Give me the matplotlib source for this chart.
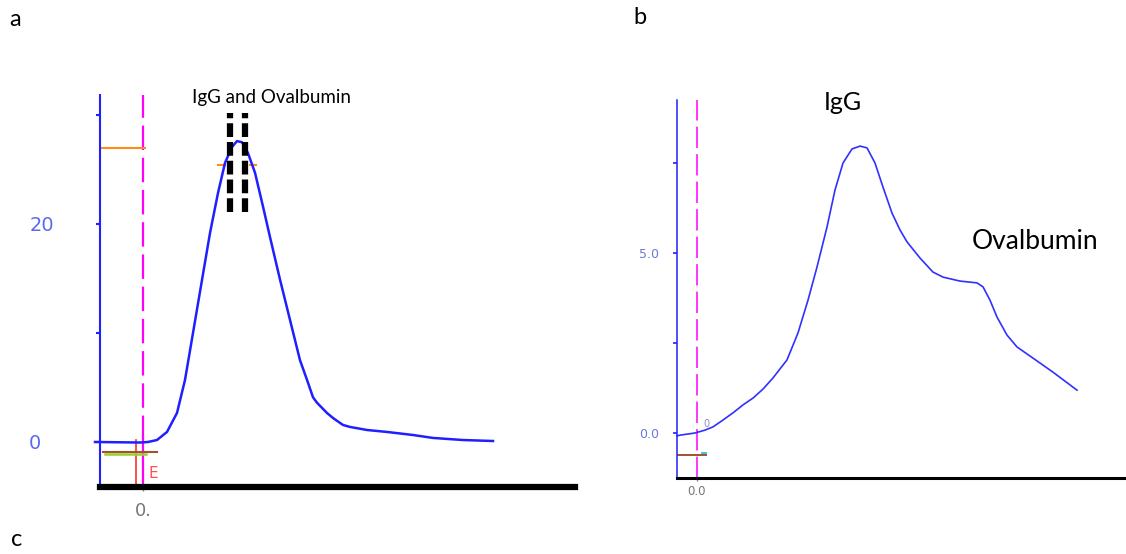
import matplotlib
import matplotlib.pyplot as plt

matplotlib.use("Agg")

# panel a: elution trace (x in mL from injection, y in mAU)
a_vol = [-0.96, -0.06, 0.10, 0.28, 0.48, 0.68, 0.84, 1.00, 1.18, 1.34, 1.50,
         1.64, 1.78, 1.88, 1.98, 2.10, 2.24, 2.40, 2.54, 2.74, 2.94, 3.14,
         3.28, 3.40, 3.48, 3.68, 3.80, 4.00, 4.14, 4.48, 4.88, 5.40, 5.80,
         6.40, 7.00]
a_abs = [0.0, -0.05, 0.0, 0.18, 0.92, 2.66, 5.69, 10.0, 14.86, 19.17, 22.84,
         25.6, 27.06, 27.6, 27.5, 26.5, 24.7, 21.6, 18.8, 14.9, 11.2, 7.5,
         5.7, 4.1, 3.6, 2.66, 2.2, 1.56, 1.38, 1.1, 0.92, 0.64, 0.37,
         0.18, 0.09]
a_yticks = [0, 10, 20, 30]
a_ylabels = ["0", "", "20", ""]
a_fractions = [1.74, 2.04]          # collected fraction window
a_frac_top = 30.2
a_frac_bottom = 21.1

# panel b: elution trace
b_vol = [-0.40, -0.34, -0.04, 0.16, 0.32, 0.52, 0.72, 0.92, 1.12, 1.32,
         1.52, 1.80, 2.02, 2.22, 2.40, 2.60, 2.76, 2.92, 3.10, 3.26, 3.40,
         3.56, 3.72, 3.90, 4.06, 4.20, 4.46, 4.72, 4.92, 5.26, 5.60, 5.72,
         5.86, 6.00, 6.20, 6.40, 6.72, 7.12, 7.60]
b_abs = [-0.08, -0.06, 0.0, 0.08, 0.17, 0.36, 0.56, 0.78, 0.97, 1.22,
         1.53, 2.03, 2.78, 3.69, 4.61, 5.72, 6.75, 7.50, 7.89, 7.97, 7.92,
         7.50, 6.83, 6.11, 5.64, 5.31, 4.86, 4.47, 4.33, 4.22, 4.17, 4.06,
         3.69, 3.22, 2.72, 2.39, 2.08, 1.69, 1.19]
b_yticks = [0, 2.5, 5.0, 7.5]
b_ylabels = ["0.0", "", "5.0", ""]

W, H = 1126, 554
fig = plt.figure(figsize=(W / 100, H / 100), dpi=100)
label_font = ["Lato", "DejaVu Sans"]

# ---------------- panel a ----------------
ax = fig.add_axes([100 / W, 1 - 487 / H, 475 / W, 392 / H])
ax.set_xlim(-0.86, 8.64)
ax.set_ylim(-4.13, 31.83)
for s in ["top", "right"]:
    ax.spines[s].set_visible(False)
ax.spines["left"].set_color("#2020ff")
ax.spines["left"].set_linewidth(1.5)
ax.spines["bottom"].set_color("black")
ax.spines["bottom"].set_linewidth(4.5)
ax.set_yticks(a_yticks)
ax.set_yticklabels(a_ylabels)
ax.tick_params(axis="y", colors="#2020ff", length=3, width=1.5, pad=48,
               labelsize=14, labelcolor="#5a6af0")
for t in ax.get_yticklabels():
    t.set_horizontalalignment("left")
ax.set_xticks([0])
ax.set_xticklabels(["0."])
ax.tick_params(axis="x", colors="#888888", length=3, width=1, pad=8,
               labelsize=13, labelcolor="#777777")

ax.plot([0, 0], [0.2, 32], color="#ff00ff", lw=1.6, ls=(0, (11, 3.5)))
ax.plot([0, 0], [-4.13, 0.2], color="#ff00ff", lw=1.6)
ax.plot([-0.14, -0.14], [-4.13, 0.18], color="#ff3030", lw=1.2)
ax.plot([-0.86, 0.04], [27.0, 27.0], color="#ff8c1a", lw=1.5)
ax.plot([1.50, 1.64], [25.4, 25.4], color="#ff8c1a", lw=1.5)
ax.plot([2.14, 2.26], [25.4, 25.4], color="#ff8c1a", lw=1.5)
ax.plot([-0.80, 0.28], [-0.92, -0.92], color="#a0522d", lw=1.5)
ax.plot([-0.76, 0.06], [-1.12, -1.12], color="#9acd32", lw=1.8)
ax.text(0.12, -2.85, "E", color="#ff5050", fontsize=11, va="center")
ax.plot(a_vol, a_abs, color="#1f1fff", lw=1.8, clip_on=False)
for xf in a_fractions:
    ax.plot([xf, xf], [a_frac_bottom, a_frac_top], color="black", lw=4.5,
            ls=(0, (2.2, 0.8)), solid_capstyle="butt")
ax.text(2.58, 31.6, "IgG and Ovalbumin", ha="center", va="center",
        fontsize=13.5, family=label_font, clip_on=False)

# ---------------- panel b ----------------
bx = fig.add_axes([677 / W, 1 - 478 / H, 449 / W, 378 / H])
bx.set_xlim(-0.4, 8.58)
bx.set_ylim(-1.25, 9.25)
for s in ["top", "right"]:
    bx.spines[s].set_visible(False)
bx.spines["left"].set_color("#2020ff")
bx.spines["left"].set_linewidth(1.1)
bx.spines["bottom"].set_color("black")
bx.spines["bottom"].set_linewidth(2.2)
bx.set_yticks(b_yticks)
bx.set_yticklabels(b_ylabels)
bx.tick_params(axis="y", colors="#2020ff", length=3, width=1.2, pad=10,
               labelsize=9, labelcolor="#6a78e0")
bx.set_xticks([0])
bx.set_xticklabels(["0.0"])
bx.tick_params(axis="x", colors="#888888", length=2, width=1, pad=3,
               labelsize=8.5, labelcolor="#777777")

bx.plot([0, 0], [-1.25, 9.25], color="#ff00ff", lw=1.1, ls=(0, (14, 4)))
bx.plot([-0.4, 0.18], [-0.61, -0.61], color="#a0522d", lw=1.4)
bx.plot([0.1, 0.18], [-0.55, -0.55], color="#40c0e0", lw=1.4)
bx.text(0.12, 0.24, "0", color="#8888cc", fontsize=7, va="center")
bx.plot(b_vol, b_abs, color="#3030ff", lw=1.2, clip_on=False)
bx.text(2.92, 9.17, "IgG", ha="center", va="center", fontsize=18,
        family=label_font, clip_on=False)
bx.text(6.76, 5.33, "Ovalbumin", ha="center", va="center", fontsize=19,
        family=label_font, clip_on=False)

# panel letters
for lx, ly, letter in [(15, 20, "a"), (640, 18, "b"), (17, 540, "c")]:
    fig.text(lx / W, 1 - ly / H, letter, ha="center", va="center",
             fontsize=17, family=label_font)

fig.savefig("out.png", dpi=100)
